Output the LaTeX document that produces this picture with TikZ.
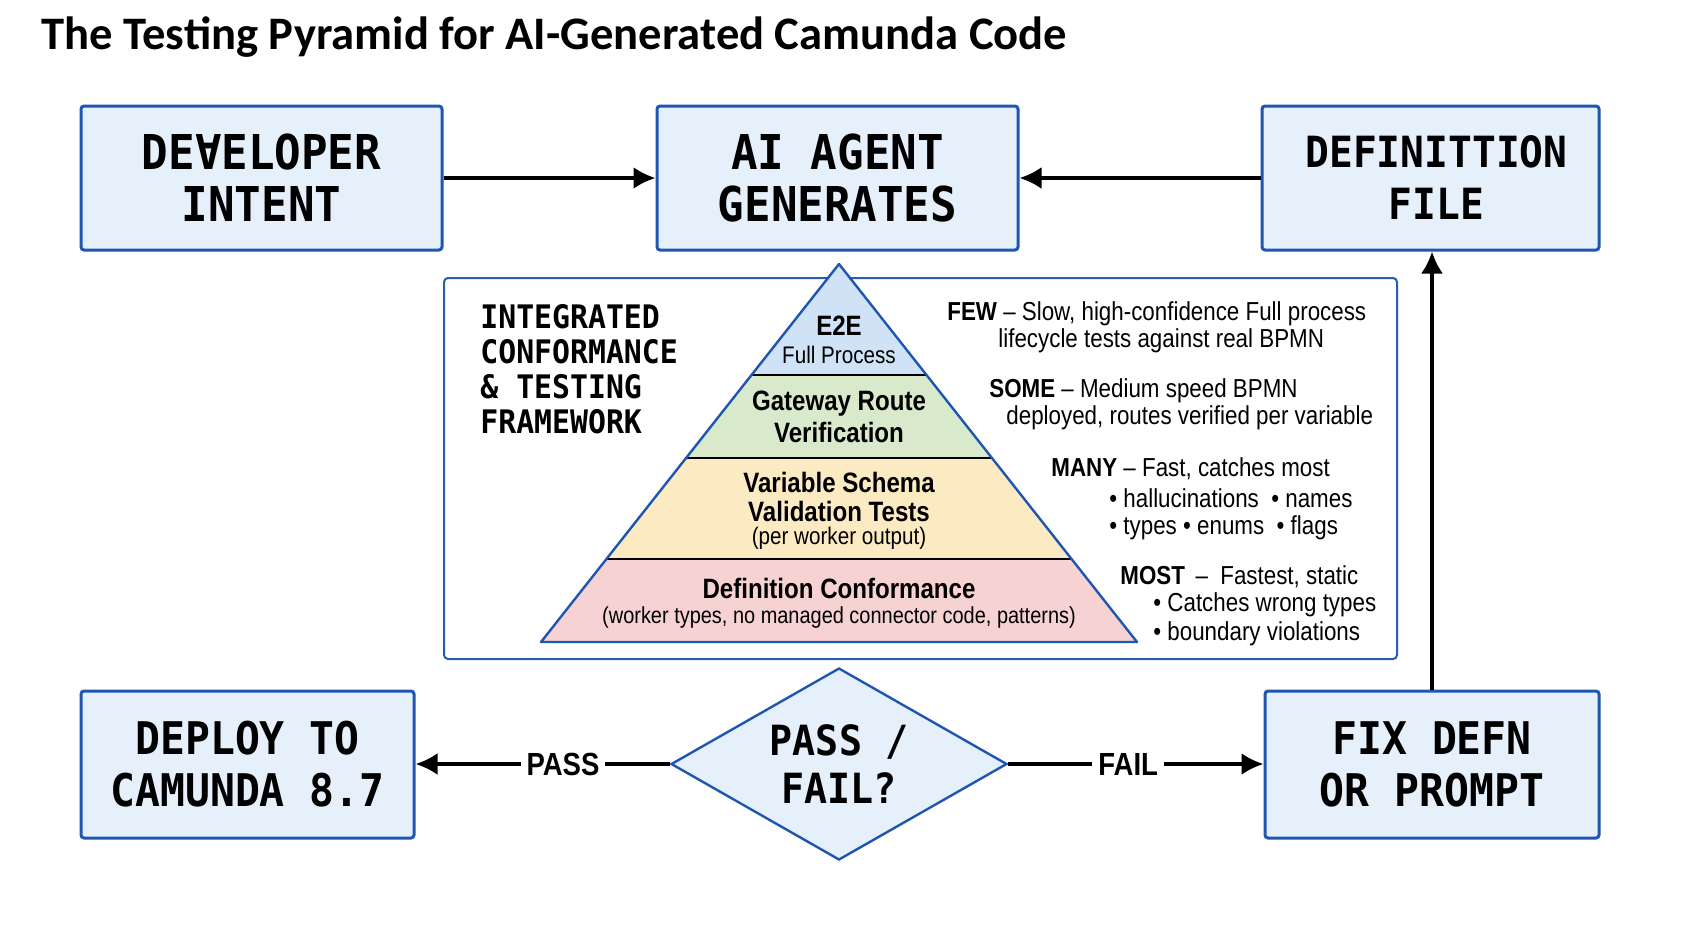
\documentclass[tikz,border=0pt]{standalone}
\usepackage{fontspec}
\setmainfont{Liberation Sans}
\newfontfamily\titlefont{Carlito}
\newfontfamily\monob[FakeStretch=0.92]{DejaVu Sans Mono}
\newfontfamily\nar[FakeStretch=0.86]{Liberation Sans}
\usetikzlibrary{shapes.geometric,arrows.meta}
\definecolor{boxblue}{HTML}{1F56B0}
\definecolor{boxfill}{HTML}{E6F0FB}
\definecolor{fwblue}{HTML}{2A5DB0}
\definecolor{layA}{HTML}{CFE2F6}
\definecolor{layB}{HTML}{D8EACB}
\definecolor{layC}{HTML}{FBEAC2}
\definecolor{layD}{HTML}{F7D2D2}
\tikzset{
  box/.style={draw=boxblue, line width=1.5pt, fill=boxfill, rounded corners=1.5pt, align=center, inner sep=0pt},
  topfont/.style={font=\monob\bfseries\fontsize{24}{26}\selectfont},
  botfont/.style={font=\monob\bfseries\fontsize{22.5}{26}\selectfont},
  arr/.style={-{Latex[length=11pt,width=11pt]}, line width=1.8pt, black},
  lbl/.style={fill=white, inner sep=3pt, font=\nar\bfseries\fontsize{16}{18}\selectfont},
  pyb/.style={font=\nar\bfseries\fontsize{14}{16}\selectfont, inner sep=0pt},
  pyr/.style={font=\nar\fontsize{12}{14}\selectfont, inner sep=0pt},
  side/.style={font=\nar\fontsize{13}{15}\selectfont, inner sep=0pt, anchor=west},
}
\begin{document}
\begin{tikzpicture}[x=0.5pt,y=-0.5pt]
\useasboundingbox (0,0) rectangle (1685,933);
\fill[white] (0,0) rectangle (1685,933);

\node[anchor=west, inner sep=0pt, font=\titlefont\bfseries\fontsize{23.3}{28}\selectfont] (title) at (41,37) {The Testing Pyramid for AI-Generated Camunda Code};

% top boxes
\node[box, topfont, minimum width=180.5pt, minimum height=72pt] (dev) at (261.5,178) {DE∀ELOPER\\INTENT};
\node[box, topfont, minimum width=180.5pt, minimum height=72pt] (ai) at (837.5,178) {AI AGENT\\GENERATES};
\node[box, font=\monob\bfseries\fontsize{21.5}{26}\selectfont, minimum width=168.5pt, minimum height=72pt] (def) at (1430.5,178) {\hspace*{6pt}DEFINITTION\\\hspace*{6pt}FILE};

% framework box
\node[draw=fwblue, line width=1pt, fill=white, rounded corners=2pt, minimum width=476.5pt, minimum height=190.5pt, inner sep=0pt] (fw) at (920.5,468.5) {};
\node[anchor=west, align=left, inner sep=0pt, font=\monob\bfseries\fontsize{16.2}{17.6}\selectfont] (fwlabel) at (480,369) {INTEGRATED\\CONFORMANCE\\\& TESTING\\FRAMEWORK};

% pyramid
\coordinate (apex) at (839,264);
\coordinate (bl) at (541,642);
\coordinate (br) at (1137,642);
\coordinate (l1) at (751.5,375); \coordinate (r1) at (926.5,375);
\coordinate (l2) at (686,458);   \coordinate (r2) at (992,458);
\coordinate (l3) at (606.5,559); \coordinate (r3) at (1071.5,559);
\fill[layA] (apex) -- (l1) -- (r1) -- cycle;
\fill[layB] (l1) -- (l2) -- (r2) -- (r1) -- cycle;
\fill[layC] (l2) -- (l3) -- (r3) -- (r2) -- cycle;
\fill[layD] (l3) -- (bl) -- (br) -- (r3) -- cycle;
\draw[black, line width=0.9pt] (l1) -- (r1) (l2) -- (r2) (l3) -- (r3);
\draw[boxblue, line width=1.2pt, line join=round] (apex) -- (bl) -- (br) -- cycle;

\node[pyb] (e2e) at (839,326) {E2E};
\node[pyr] (fullp) at (839,355) {Full Process};
\node[pyb] (gw1) at (839,404) {Gateway Route};
\node[pyb] (gw2) at (839,432) {Verification};
\node[pyb] (vs1) at (839,482) {Variable Schema};
\node[pyb] (vs2) at (839,511) {Validation Tests};
\node[pyr] (vs3) at (839,538) {(per worker output)};
\node[pyb] (dc1) at (839,588) {Definition Conformance};
\node[pyr, font=\nar\fontsize{11.6}{14}\selectfont] (dc2) at (839,617) {(worker types, no managed connector code, patterns)};

% side labels
\node[side] (few1) at (947,314) {\textbf{FEW} – Slow, high-confidence Full process};
\node[side] (few2) at (998,341) {lifecycle tests against real BPMN};
\node[side] (some1) at (989,391) {\textbf{SOME} – Medium speed BPMN};
\node[side] (some2) at (1006,418) {deployed, routes verified per variable};
\node[side] (many1) at (1051,469) {\textbf{MANY} – Fast, catches most};
\node[side] (many2) at (1109,498) {• hallucinations \ • names};
\node[side] (many3) at (1109,528) {• types • enums \ • flags};
\node[side] (most1) at (1120,577) {\textbf{MOST} \,– \ Fastest, static};
\node[side] (most2) at (1153,605) {• Catches wrong types};
\node[side] (most3) at (1153,634) {• boundary violations};

% bottom row
\node[box, botfont, minimum width=166.5pt, minimum height=73.5pt] (deploy) at (247.5,764.5) {DEPLOY TO\\CAMUNDA 8.7};
\node[diamond, draw=boxblue, fill=boxfill, line width=1.2pt, aspect=1.75, minimum width=168pt, minimum height=96pt, inner sep=0pt, align=center, font=\monob\bfseries\fontsize{20.8}{24}\selectfont] (dec) at (839,764) {PASS /\\FAIL?};
\node[box, botfont, minimum width=167pt, minimum height=73.5pt] (fix) at (1432,764.5) {FIX DEFN\\OR PROMPT};

% connectors
\draw[arr] (dev) -- (ai);
\draw[arr] (def) -- (ai);
\draw[arr] (dec.west) -- node[lbl, pos=0.42] {PASS} (dec.west -| deploy.east);
\draw[arr] (dec.east) -- node[lbl, pos=0.47] {FAIL} (dec.east -| fix.west);
\draw[arr] (fix.north) -- (fix.north |- def.south);
\end{tikzpicture}
\end{document}
